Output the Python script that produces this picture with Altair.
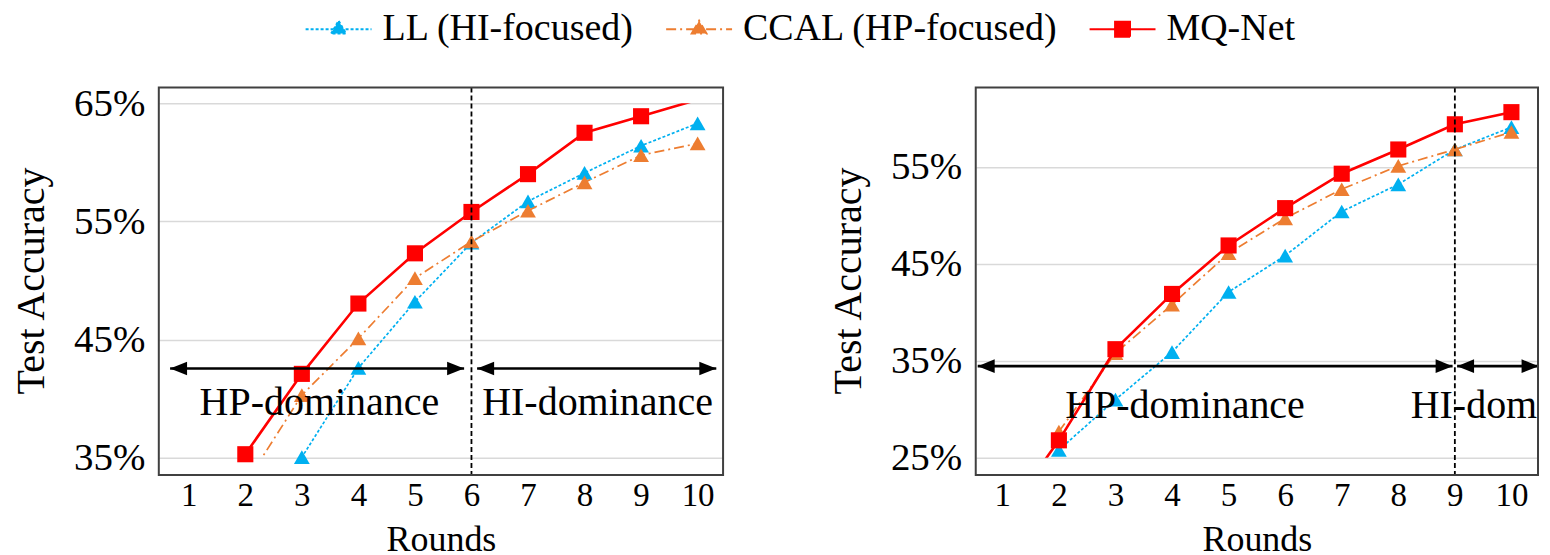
import altair as alt
import pandas as pd

FONT = "Liberation Serif"

ROUNDS = list(range(1, 11))
SERIES = ["LL (HI-focused)", "CCAL (HP-focused)", "MQ-Net"]
COLORS = ["#00B0F0", "#ED7D31", "#FF0000"]
DASHES = [[3, 2], [10, 4, 2, 4], [1, 0]]
WIDTHS = [1.7, 1.7, 2.6]
SHAPES = ["triangle-up", "triangle-up", "square"]
MSIZES = [250, 250, 260]
LEGEND_PATHS = [
    "M-1,0H7.25M2.2,0.53L3.125,-1.07L4.05,0.53Z",
    "M-1,0H7.25M2.2,0.53L3.125,-1.07L4.05,0.53Z",
    "M-1,0H7.25M2.19,-0.94H4.06V0.94H2.19Z",
]

# ---- left panel (axis limits 35%-65%, values outside are clipped) ----
L_LL = [None, 27.0, 35.05, 42.6, 48.2, 53.2, 56.7, 59.1, 61.4, 63.3]
L_CCAL = [None, 32.8, 40.3, 45.1, 50.2, 53.3, 55.9, 58.3, 60.6, 61.6]
L_MQ = [None, 35.3, 42.1, 48.05, 52.3, 55.8, 59.0, 62.5, 63.9, 65.3]
L_YLIM = [35, 65]
L_YTICKS = [35, 45, 55, 65]
L_XDOM = [0.47, 10.45]
L_SPLIT = 6
L_ARROWS = [[0.67, 5.87], [6.1, 10.33]]
L_ARROW_Y = 42.55
L_TEXTS = ["HP-dominance", "HI-dominance"]
L_TEXT_X = [3.31, 8.23]
L_TEXT_Y = 39.6
L_TEXT_ALIGN = ["center", "center"]

# ---- right panel ----
R_LL = [None, 25.8, 31.0, 35.9, 42.1, 45.85, 50.4, 53.2, 56.8, 59.1]
R_CCAL = [None, 27.7, 35.8, 40.8, 46.1, 49.7, 52.7, 55.1, 56.8, 58.6]
R_MQ = [18.6, 26.8, 36.2, 41.9, 46.9, 50.75, 54.3, 56.8, 59.4, 60.65]
R_YLIM = [25, 61.57]
R_YTICKS = [25, 35, 45, 55]
R_XDOM = [0.53, 10.47]
R_SPLIT = 9
R_ARROWS = [[0.565, 8.96], [9.04, 10.48]]
R_ARROW_Y = 34.45
R_TEXTS = ["HP-dominance", "HI-dominance"]
R_TEXT_X = [4.23, 8.22]
R_TEXT_Y = 30.3
R_TEXT_ALIGN = ["center", "left"]

W_L, W_R, H = 565, 563, 355
TOP_EXT, BOT_EXT = 15.7, 17.3

HEAD_LEFT = "M0,0L2,-0.8L2,0.8Z"
HEAD_RIGHT = "M0,0L-2,-0.8L-2,0.8Z"


def panel(vals, ylim, yticks, xdom, split, arrows, arrow_y, texts, text_x, text_y,
          aligns, W, with_legend):
    rows = []
    for s, v in zip(SERIES, vals):
        for r, a in zip(ROUNDS, v):
            if a is not None:
                rows.append({"round": r, "acc": a, "series": s})
    df = pd.DataFrame(rows)

    xenc = alt.X(
        "round:Q",
        scale=alt.Scale(domain=xdom, nice=False, zero=False),
        axis=alt.Axis(values=ROUNDS, title="Rounds", offset=BOT_EXT, domain=False,
                      ticks=False, grid=False, labelFontSize=33, labelPadding=4,
                      titleFontSize=36, titlePadding=11, format="d"),
    )
    yenc = alt.Y(
        "acc:Q",
        scale=alt.Scale(domain=ylim, nice=False, zero=False),
        axis=alt.Axis(values=yticks, labelExpr="datum.value + '%'", title="Test Accuracy",
                      domain=False, ticks=False, grid=True, gridColor="#d9d9d9",
                      gridWidth=1.5, labelFontSize=39, labelPadding=14,
                      titleFontSize=40, titlePadding=22),
    )

    layers = []
    for i, s in enumerate(SERIES):
        sub = alt.Chart(df).transform_filter(alt.datum.series == s)
        kw = dict(clip=True, color=COLORS[i], strokeWidth=WIDTHS[i])
        if DASHES[i] != [1, 0]:
            kw["strokeDash"] = DASHES[i]
        layers.append(sub.mark_line(**kw).encode(x=xenc, y=yenc, order="round:Q"))
        pts = sub.transform_filter(
            (alt.datum.acc >= ylim[0]) & (alt.datum.acc <= ylim[1])
        ).mark_point(filled=True, opacity=1, shape=SHAPES[i], size=MSIZES[i],
                     color=COLORS[i], strokeWidth=0).encode(x=xenc, y=yenc)
        layers.append(pts)

    # split line
    split_df = pd.DataFrame({"round": [split]})
    layers.append(
        alt.Chart(split_df).mark_rule(color="black", strokeDash=[5, 3], strokeWidth=1.8)
        .encode(x=xenc, y=alt.value(-TOP_EXT), y2=alt.value(H + BOT_EXT))
    )

    # arrows
    arr_df = pd.DataFrame({"round": [a[0] for a in arrows],
                           "round2": [a[1] for a in arrows],
                           "acc": [arrow_y] * len(arrows)})
    layers.append(
        alt.Chart(arr_df).mark_rule(color="black", strokeWidth=2.6)
        .encode(x=xenc, x2="round2:Q", y=yenc)
    )
    layers.append(
        alt.Chart(arr_df).mark_point(shape=HEAD_LEFT, filled=True, color="black",
                                     opacity=1, size=289, strokeWidth=0)
        .encode(x=xenc, y=yenc)
    )
    layers.append(
        alt.Chart(arr_df).mark_point(shape=HEAD_RIGHT, filled=True, color="black",
                                     opacity=1, size=289, strokeWidth=0)
        .encode(x=alt.X("round2:Q"), y=yenc)
    )

    # annotation texts
    txt_df = pd.DataFrame({"label": texts, "round": text_x,
                           "acc": [text_y] * len(texts), "align": aligns})
    for al in sorted(set(aligns)):
        layers.append(
            alt.Chart(txt_df).transform_filter(alt.datum.align == al)
            .mark_text(font=FONT, fontSize=40, align=al, baseline="middle",
                       color="black", clip=True)
            .encode(x=xenc, y=yenc, text="label:N")
        )

    # frame
    layers.append(
        alt.Chart(pd.DataFrame({"k": [0]})).mark_rect(filled=False, stroke="#404040",
                                                     strokeWidth=2)
        .encode(x=alt.value(0), x2=alt.value(W), y=alt.value(-TOP_EXT),
                y2=alt.value(H + BOT_EXT))
    )

    if with_legend:
        leg = alt.Legend(orient="none", legendX=136, legendY=-93, direction="horizontal",
                         title=None, labelFontSize=38, labelFont=FONT, labelColor="black",
                         symbolSize=256, symbolStrokeWidth=2, labelOffset=50,
                         columnPadding=20, labelLimit=0, symbolOpacity=1)
        layers.append(
            alt.Chart(df).transform_filter("false")
            .mark_point(filled=True, opacity=1, strokeWidth=2)
            .encode(
                x=xenc, y=yenc,
                fill=alt.Fill("series:N", scale=alt.Scale(domain=SERIES, range=COLORS),
                              legend=leg),
                stroke=alt.Stroke("series:N", scale=alt.Scale(domain=SERIES, range=COLORS),
                                  legend=leg),
                shape=alt.Shape("series:N",
                                scale=alt.Scale(domain=SERIES, range=LEGEND_PATHS),
                                legend=leg),
                strokeDash=alt.StrokeDash("series:N",
                                          scale=alt.Scale(domain=SERIES, range=DASHES),
                                          legend=leg),
            )
        )

    return alt.layer(*layers).properties(width=W, height=H)


left = panel([L_LL, L_CCAL, L_MQ], L_YLIM, L_YTICKS, L_XDOM, L_SPLIT, L_ARROWS,
             L_ARROW_Y, L_TEXTS, L_TEXT_X, L_TEXT_Y, L_TEXT_ALIGN, W_L, True)
right = panel([R_LL, R_CCAL, R_MQ], R_YLIM, R_YTICKS, R_XDOM, R_SPLIT, R_ARROWS,
              R_ARROW_Y, R_TEXTS, R_TEXT_X, R_TEXT_Y, R_TEXT_ALIGN, W_R, False)

chart = (
    alt.hconcat(left, right, spacing=104)
    .properties(padding={"left": 3, "top": 2, "right": 2, "bottom": 0})
    .configure(font=FONT)
    .configure_view(stroke=None)
    .configure_axis(labelFont=FONT, titleFont=FONT, labelColor="black",
                    titleColor="black", titleFontWeight="normal")
)

chart.save("out.html", embed_options={"renderer": "svg", "actions": False})
